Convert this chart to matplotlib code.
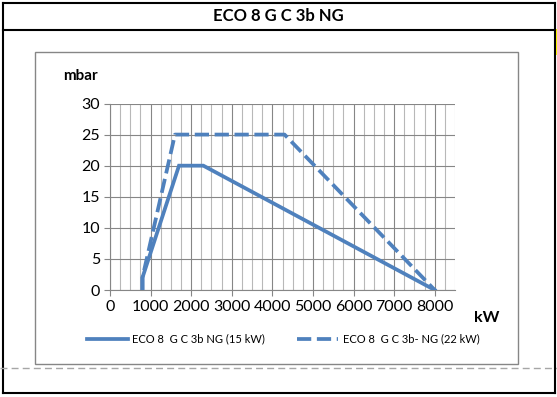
import matplotlib
matplotlib.use("Agg")
import matplotlib.pyplot as plt
from matplotlib.lines import Line2D
from matplotlib.patches import Rectangle
from matplotlib.ticker import MultipleLocator

plt.rcParams['font.family'] = ['Lato', 'DejaVu Sans']

# burner working field data (kW vs mbar)
title = "ECO 8 G C 3b NG"
label_15 = "ECO 8  G C 3b NG (15 kW)"
label_22 = "ECO 8  G C 3b- NG (22 kW)"
kw_15 = [800, 800, 1700, 2300, 8000]
mbar_15 = [0, 2, 20, 20, 0]
kw_22 = [800, 800, 1600, 4300, 8000]
mbar_22 = [0, 2, 25, 25, 0]
x_ticks = [0, 1000, 2000, 3000, 4000, 5000, 6000, 7000, 8000]
y_ticks = [0, 5, 10, 15, 20, 25, 30]

W, H = 557, 397
BLUE = '#4F81BD'

fig = plt.figure(figsize=(W / 100, H / 100), dpi=100)


def fx(px):
    return px / W


def fy(py):
    return 1 - py / H


# sheet cell borders
fig.add_artist(Line2D([fx(2.5), fx(555)], [fy(2.5), fy(2.5)], color='black', lw=1.5))
fig.add_artist(Line2D([fx(2.5), fx(555)], [fy(29.5), fy(29.5)], color='black', lw=1.5))
fig.add_artist(Line2D([fx(2.5), fx(2.5)], [fy(2.5), fy(393)], color='black', lw=1.5))
fig.add_artist(Line2D([fx(555), fx(555)], [fy(2.5), fy(393)], color='black', lw=1.5))
fig.add_artist(Line2D([fx(2.5), fx(555)], [fy(393), fy(393)], color='black', lw=1.5))
fig.add_artist(Line2D([0, 1], [fy(368), fy(368)], color='#a6a6a6', lw=1, ls=(0, (5, 3))))
fig.add_artist(Rectangle((fx(555.5), fy(55)), fx(2), 26 / H, color='#ffff00', lw=0))

# chart area border
fig.add_artist(Rectangle((fx(34.5), fy(363.5)), fx(518 - 34.5), (363.5 - 52) / H,
                         fill=False, ec='#868686', lw=1))

fig.text(fx(278), fy(16), title, ha='center', va='center', fontsize=12, fontweight='bold')
fig.text(fx(80), fy(76), "mbar", ha='center', va='center', fontsize=11, fontweight='bold')
fig.text(fx(487), fy(318), "kW", ha='center', va='center', fontsize=11.5, fontweight='bold')

ax = fig.add_axes([fx(110), fy(290), fx(455 - 110), (290 - 103.5) / H])
ax.plot(kw_15, mbar_15, color=BLUE, lw=2.7, solid_joinstyle='miter', label=label_15, zorder=3)
ax.plot(kw_22, mbar_22, color=BLUE, lw=2.7, ls=(0, (3.8, 1.5)), label=label_22, zorder=3)

ax.set_xlim(0, 8500)
ax.set_ylim(0, 30)
ax.set_xticks(x_ticks)
ax.set_yticks(y_ticks)
ax.xaxis.set_minor_locator(MultipleLocator(250))
ax.grid(True, which='major', color='#868686', lw=0.8)
ax.grid(True, which='minor', axis='x', color='#b8b8b8', lw=0.8)
ax.set_axisbelow(True)
for s in ax.spines.values():
    s.set_color('#868686')
    s.set_linewidth(0.8)
ax.spines['top'].set_visible(False)
ax.spines['right'].set_visible(False)
ax.tick_params(which='major', length=4, color='#868686', labelsize=11.5, pad=3)
ax.tick_params(which='minor', length=0)

fig.legend(loc='center', bbox_to_anchor=(fx(283), fy(339)), ncol=2, frameon=False,
           fontsize=8, handlelength=3.7, handletextpad=0.4, columnspacing=2.9)

fig.savefig("out.png", dpi=100)
